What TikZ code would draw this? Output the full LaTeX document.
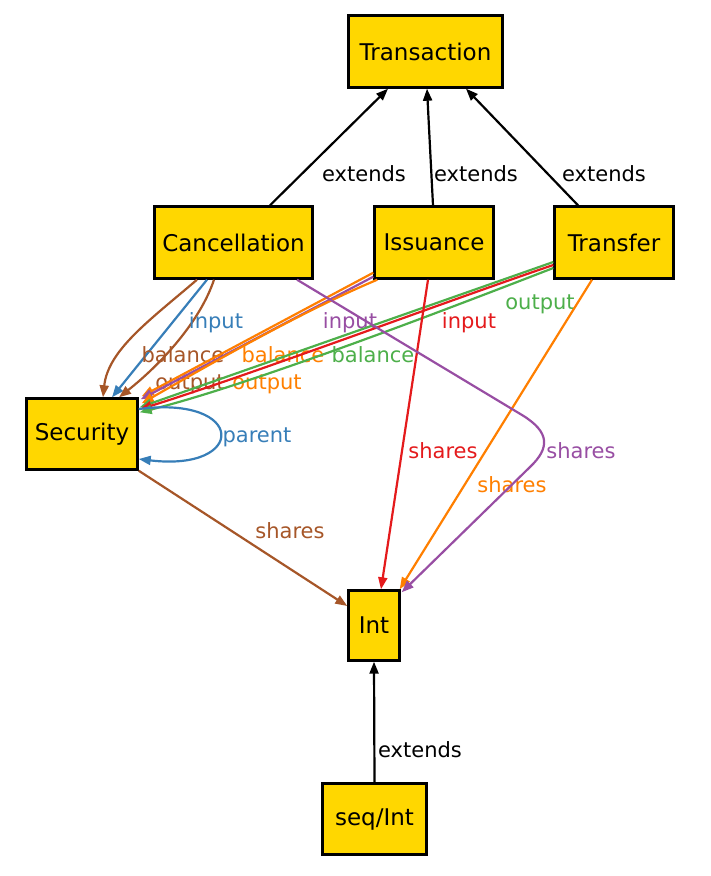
\documentclass[tikz,border=0pt]{standalone}
\usepackage{fontspec}
\setmainfont{DejaVu Sans}
\usetikzlibrary{arrows.meta}
\definecolor{gold}{HTML}{FFD700}
\definecolor{cblue}{HTML}{377EB8}
\definecolor{cred}{HTML}{E41A1C}
\definecolor{cgreen}{HTML}{4DAF4A}
\definecolor{cpurple}{HTML}{984EA3}
\definecolor{corange}{HTML}{FF7F00}
\definecolor{cbrown}{HTML}{A65628}
\begin{document}
\begin{tikzpicture}[x=1pt,y=-1pt,
  box/.style={draw=black, line width=2.4pt, fill=gold, inner sep=0pt, font=\fontsize{23}{27}\selectfont},
  lbl/.style={inner sep=0pt, yshift=-2pt, text height=15pt, text depth=4pt, font=\fontsize{21}{25}\selectfont},
  edge/.style={line width=2.2pt, -{Triangle[length=12pt,width=9pt]}}]
\useasboundingbox (0,0) rectangle (710,876);

\node[box, minimum width=154pt, minimum height=72pt] (tr) at (425.5,51.5) {Transaction};
\node[box, minimum width=158pt, minimum height=72pt] (can) at (233.5,242.5) {Cancellation};
\node[box, minimum width=119pt, minimum height=72pt] (iss) at (434,242.5) {Issuance};
\node[box, minimum width=119pt, minimum height=72pt] (tf) at (614,242.5) {Transfer};
\node[box, minimum width=111pt, minimum height=71pt] (sec) at (82,434) {Security};
\node[box, minimum width=51pt, minimum height=70pt] (int) at (374,625.5) {Int};
\node[box, minimum width=104pt, minimum height=71pt] (seq) at (374.5,819) {seq/Int};

% extends
\draw[edge, black] ([xshift=36.5pt]can.north) -- ([xshift=-37.5pt]tr.south);
\draw[edge, black] ([xshift=-1pt]iss.north) -- ([xshift=1.5pt]tr.south);
\draw[edge, black] ([xshift=-36pt]tf.north) -- ([xshift=40.5pt]tr.south);
\draw[edge, black] (seq.north) -- (int.south);
\node[lbl] (l1) at (364,174) {extends};
\node[lbl] (l2) at (476,174) {extends};
\node[lbl] (l3) at (604,174) {extends};
\node[lbl] (l4) at (420,750) {extends};

% Cancellation -> Security
\draw[edge, cbrown] ([xshift=-36.5pt]can.south) .. controls (150,320) and (108,350) .. ([xshift=21pt]sec.north);
\draw[edge, cblue] ([xshift=-26.5pt]can.south) -- ([xshift=30pt]sec.north);
\draw[edge, cbrown] ([xshift=-19.5pt]can.south) .. controls (200,322) and (160,365) .. ([xshift=37pt]sec.north);
\node[lbl, text=cblue] (l5) at (216,321) {input};
\node[lbl, text=cbrown] (l6) at (183,355) {balance};
\node[lbl, text=cbrown] (l7) at (190,382) {output};

% Issuance -> Security
\draw[edge, corange] ([yshift=7pt]iss.south west) -- ([xshift=3pt,yshift=1pt]sec.north east);
\draw[edge, cpurple] ([yshift=3pt]iss.south west) -- ([xshift=2pt,yshift=-2pt]sec.north east);
\draw[edge, corange] ([xshift=4pt]iss.south west) .. controls (300,312) and (200,370) .. ([xshift=3pt,yshift=-6pt]sec.north east);
\node[lbl, text=corange] (l8) at (283,355) {balance};
\node[lbl, text=cpurple] (l9) at (350,321) {input};
\node[lbl, text=corange] (l10) at (267,382) {output};

% Transfer -> Security
\draw[edge, cgreen] ([yshift=-19.5pt]tf.west) -- ([xshift=1pt,yshift=-10pt]sec.north east);
\draw[edge, cred] ([yshift=-22.5pt]tf.west) .. controls (450,300) and (250,375) .. ([xshift=1pt,yshift=-12pt]sec.north east);
\draw[edge, cgreen] ([yshift=-25.5pt]tf.west) .. controls (450,308) and (250,385) .. ([xshift=1pt,yshift=-15pt]sec.north east);
\node[lbl, text=cgreen] (l11) at (373,355) {balance};
\node[lbl, text=cred] (l12) at (469,321) {input};
\node[lbl, text=cgreen] (l13) at (540,302) {output};

% self loop
\draw[edge, cblue] ([yshift=25pt]sec.east) .. controls (247,395) and (247,472) .. ([yshift=-25pt]sec.east);
\node[lbl, text=cblue] (l14) at (257,435) {parent};

% shares
\draw[edge, cbrown] (sec.south east) -- ([yshift=19.5pt]int.west);
\node[lbl, text=cbrown] (l15) at (290,531) {shares};
\draw[edge, cred] ([xshift=-6pt]iss.south) -- ([xshift=7pt]int.north);
\node[lbl, text=cred] (l16) at (443,451) {shares};
\draw[edge, corange] ([xshift=-22pt]tf.south) -- ([xshift=-1pt]int.north east);
\node[lbl, text=corange] (l17) at (512,485) {shares};
\draw[edge, cpurple] ([xshift=63.5pt]can.south) -- (522,415) .. controls (550,432) and (550,448) .. (530,467) -- ([xshift=1pt,yshift=-3pt]int.north east);
\node[lbl, text=cpurple] (l18) at (581,451) {shares};
\end{tikzpicture}
\end{document}
